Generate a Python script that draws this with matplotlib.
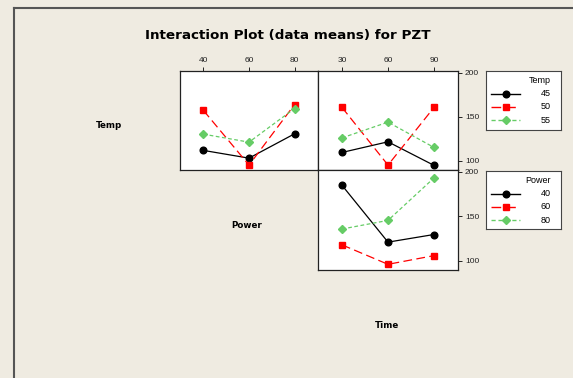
import matplotlib
matplotlib.use("Agg")
import matplotlib.pyplot as plt
from matplotlib.lines import Line2D

plt.rcParams['font.family'] = ['Liberation Sans', 'DejaVu Sans']

# ---- data ----
power_levels = [40, 60, 80]
time_levels = [30, 60, 90]
temp_levels = [45, 50, 55]

# Temp x Power (mean PZT)
temp_power = {
    45: [111.8, 103.0, 130.7],
    50: [157.3, 95.1, 164.0],
    55: [130.3, 121.2, 159.5],
}
# Temp x Time
temp_time = {
    45: [109.5, 121.6, 94.8],
    50: [160.7, 95.1, 160.7],
    55: [126.1, 144.0, 115.2],
}
# Power x Time
power_time = {
    40: [184.9, 120.9, 129.5],
    60: [117.8, 95.9, 105.7],
    80: [135.7, 145.4, 193.2],
}
y_ticks = [100, 150, 200]

W, H = 573, 378
BG = '#efebe1'
styles = [
    dict(color='black', linestyle='-', marker='o', markersize=4.8, lw=0.9),
    dict(color='#ff0000', linestyle=(0, (7, 3.5)), marker='s', markersize=4.3, lw=0.9),
    dict(color='#66cc66', linestyle=(0, (3, 2)), marker='D', markersize=4.3, lw=0.9),
]

fig = plt.figure(figsize=(W / 100, H / 100), dpi=100, facecolor=BG)


def px_axes(x0, y0, x1, y1, **kw):
    return fig.add_axes([x0 / W, 1 - y1 / H, (x1 - x0) / W, (y1 - y0) / H], **kw)


# figure border (top and left)
fig.add_artist(Line2D([14 / W, 14 / W], [0, 1 - 8 / H], transform=fig.transFigure,
                      color='#555555', lw=1.5))
fig.add_artist(Line2D([14 / W, 1], [1 - 8 / H, 1 - 8 / H], transform=fig.transFigure,
                      color='#555555', lw=1.5))

fig.text(288 / W, 1 - 36 / H, 'Interaction Plot (data means) for PZT',
         ha='center', va='center', fontsize=9.7, fontweight='bold', family='DejaVu Sans')

ylim = (89.5, 202.2)


def style_axes(ax):
    ax.set_facecolor('white')
    for s in ax.spines.values():
        s.set_linewidth(0.9)
        s.set_color('#222222')
    ax.tick_params(labelsize=6, length=3, width=0.7, pad=2, colors='#222222')


# panel 1: Temp vs Power
ax1 = px_axes(180, 71, 318, 170)
for (k, st) in zip(temp_levels, styles):
    ax1.plot(power_levels, temp_power[k], **st)
ax1.set_xlim(29.7, 90.3)
ax1.set_ylim(*ylim)
ax1.set_xticks(power_levels)
ax1.xaxis.tick_top()
ax1.set_yticks([])
style_axes(ax1)

# panel 2: Temp vs Time
ax2 = px_axes(318, 71, 458, 170)
for (k, st) in zip(temp_levels, styles):
    ax2.plot(time_levels, temp_time[k], **st)
ax2.set_xlim(14.3, 105.7)
ax2.set_ylim(*ylim)
ax2.set_xticks(time_levels)
ax2.xaxis.tick_top()
ax2.yaxis.tick_right()
ax2.set_yticks(y_ticks)
style_axes(ax2)

# panel 3: Power vs Time
ax3 = px_axes(318, 170, 458, 270)
for (k, st) in zip(power_levels, styles):
    ax3.plot(time_levels, power_time[k], **st)
ax3.set_xlim(14.3, 105.7)
ax3.set_ylim(*ylim)
ax3.set_xticks([])
ax3.yaxis.tick_right()
ax3.set_yticks(y_ticks)
style_axes(ax3)

# row/diagonal labels
for name, (cx, cy) in zip(['Temp', 'Power', 'Time'], [(109, 126), (247, 226), (387, 325)]):
    fig.text(cx / W, 1 - cy / H, name, ha='center', va='center', fontsize=6.3,
             fontweight='bold', family='DejaVu Sans')


# legends drawn in small axes
def legend_box(y_top, y_bot, title, labels):
    lax = px_axes(486, y_top, 561, y_bot)
    lax.set_xlim(486, 561)
    lax.set_ylim(y_bot, y_top)
    lax.set_xticks([])
    lax.set_yticks([])
    lax.set_facecolor('white')
    for s in lax.spines.values():
        s.set_linewidth(0.8)
        s.set_color('#444444')
    lax.text(551, y_top + 9.5, title, ha='right', va='center', fontsize=6.5)
    for i, (lab, st) in enumerate(zip(labels, styles)):
        yy = y_top + 22.5 + i * 13.4
        lax.plot([491, 519.5], [yy, yy], color=st['color'], linestyle=st['linestyle'], lw=1.0)
        lax.plot([506], [yy], color=st['color'], marker=st['marker'],
                 markersize=st['markersize'], linestyle='none')
        lax.text(551, yy, str(lab), ha='right', va='center', fontsize=6.5)


legend_box(71, 129.5, 'Temp', temp_levels)
legend_box(171, 228.5, 'Power', power_levels)

fig.savefig('out.png', dpi=100, facecolor=BG)
